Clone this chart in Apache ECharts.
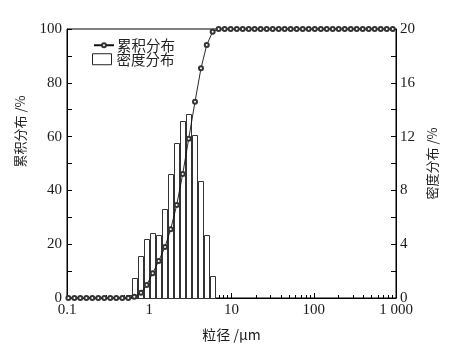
<!DOCTYPE html>
<html>
<head>
<meta charset="utf-8">
<script src="https://cdn.jsdelivr.net/npm/echarts@6/dist/echarts.min.js"></script>
<style>html,body{margin:0;padding:0;background:#fff}#c{width:459px;height:350px}</style>
</head>
<body>
<div id="c"></div>
<script>
// Density distribution (right axis, %): bin edges (μm) and bar heights
const binEdges = [0.522, 0.617, 0.730, 0.863, 1.021, 1.208, 1.429, 1.690, 2.000, 2.365, 2.798, 3.311, 3.915, 4.632, 5.478, 6.481];
const density = [0.25, 1.49, 3.12, 4.39, 4.83, 4.68, 6.62, 9.22, 11.52, 13.16, 13.68, 12.12, 8.70, 4.68, 1.67];

// Cumulative distribution (left axis, %)
const cumSizes = [0.104, 0.123, 0.145, 0.172, 0.203, 0.240, 0.284, 0.336, 0.397, 0.470, 0.556,
  0.658, 0.794, 0.931, 1.101, 1.303, 1.554, 1.823, 2.157, 2.552, 3.018, 3.600, 4.257, 5.00, 5.90,
  6.98, 8.26, 9.77, 11.6, 13.7, 16.2, 19.1, 22.6, 26.8, 31.7, 37.5, 44.3, 52.4, 62.0, 73.4, 86.8,
  103, 122, 144, 170, 201, 238, 282, 333, 394, 466, 551, 652, 772, 913];
const cumValues = [0, 0, 0, 0, 0, 0, 0, 0, 0, 0, 0,
  0.48, 1.97, 4.83, 9.18, 13.75, 18.96, 25.54, 34.57, 46.1, 59.2, 72.97, 85.4, 94.05, 99.0,
  100, 100, 100, 100, 100, 100, 100, 100, 100, 100, 100, 100, 100, 100, 100, 100,
  100, 100, 100, 100, 100, 100, 100, 100, 100, 100, 100, 100, 100, 100];

// Axis ticks and labels
const xMajorTicks = [0.1, 1, 10, 100, 1000];
const xTickLabels = ['0.1', '1', '10', '100', '1 000'];
const xMinorTicks = [0.2, 0.3, 0.4, 0.5, 0.6, 0.7, 0.8, 0.9, 2, 3, 4, 5, 6, 7, 8, 9,
  20, 30, 40, 50, 60, 70, 80, 90, 200, 300, 400, 500, 600, 700, 800, 900];

const seriesNames = ['累积分布', '密度分布'];
const axisNames = { x: '粒径 /μm', yLeft: '累积分布 /%', yRight: '密度分布 /%' };

const barData = density.map((v, i) => [binEdges[i], binEdges[i + 1], v]);
const lineData = cumSizes.map((s, i) => [s, cumValues[i]]);

const serif = 'Liberation Serif';
const cjk = 'Noto Sans CJK SC';
const ink = '#1a1a1a';
const legendText = { fontFamily: cjk, fontSize: 14.5, color: '#222', lineHeight: 14 };

const chart = echarts.init(document.getElementById('c'), null, { renderer: 'canvas' });
chart.setOption({
  animation: false,
  backgroundColor: '#fff',
  grid: { left: 67, right: 63, top: 29, bottom: 52, show: true, borderColor: '#000', borderWidth: 1 },
  legend: [{
    orient: 'vertical', left: 88, top: 33, itemWidth: 20, itemHeight: 5,
    textStyle: Object.assign({ padding: [0, 0, 0, -2] }, legendText),
    data: [{ name: seriesNames[0] }]
  }, {
    orient: 'vertical', left: 87, top: 47, itemWidth: 19, itemHeight: 11,
    textStyle: legendText,
    data: [{ name: seriesNames[1], icon: 'rect', itemStyle: { color: '#fff', borderColor: '#222', borderWidth: 1 } }]
  }],
  xAxis: [{
    type: 'log', logBase: 10, min: 0.1, max: 1000, position: 'bottom',
    name: axisNames.x, nameLocation: 'middle', nameGap: 30,
    nameTextStyle: { fontFamily: cjk, fontSize: 14, color: ink },
    axisLine: { show: true, lineStyle: { color: '#000', width: 1 } },
    axisTick: { show: true, inside: true, length: 5, customValues: xMajorTicks, lineStyle: { color: '#000' } },
    axisLabel: {
      customValues: xMajorTicks, fontFamily: serif, fontSize: 15, color: ink, margin: 5,
      formatter: (v) => { const i = xMajorTicks.findIndex(t => Math.abs(t - v) / t < 1e-6); return i >= 0 ? xTickLabels[i] : ''; }
    },
    splitLine: { show: false }
  }, {
    type: 'log', logBase: 10, min: 0.1, max: 1000, position: 'bottom', offset: 0,
    axisLine: { show: false },
    axisTick: { show: true, inside: true, length: 3, customValues: xMinorTicks, lineStyle: { color: '#000' } },
    axisLabel: { show: false },
    splitLine: { show: false }
  }],
  yAxis: [{
    type: 'value', min: 0, max: 100, interval: 20, position: 'left',
    name: axisNames.yLeft, nameLocation: 'middle', nameRotate: 90, nameGap: 40,
    nameTextStyle: { fontFamily: cjk, fontSize: 13, color: ink, padding: [0, 0, 0, 64] },
    axisLine: { show: true, lineStyle: { color: '#000' } },
    axisTick: { show: true, inside: true, length: 5, lineStyle: { color: '#000' } },
    minorTick: { show: true, splitNumber: 2, length: 5, lineStyle: { color: '#000' } },
    axisLabel: { fontFamily: serif, fontSize: 15, color: ink, margin: 5 },
    splitLine: { show: false }, minorSplitLine: { show: false }
  }, {
    type: 'value', min: 0, max: 20, interval: 4, position: 'right',
    name: axisNames.yRight, nameLocation: 'middle', nameRotate: 90, nameGap: 30,
    nameTextStyle: { fontFamily: cjk, fontSize: 13, color: ink },
    axisLine: { show: true, lineStyle: { color: '#000' } },
    axisTick: { show: true, inside: true, length: 5, lineStyle: { color: '#000' } },
    minorTick: { show: true, splitNumber: 2, length: 5, lineStyle: { color: '#000' } },
    axisLabel: { fontFamily: serif, fontSize: 15, color: ink, margin: 4 },
    splitLine: { show: false }, minorSplitLine: { show: false }
  }],
  series: [{
    name: seriesNames[1], type: 'custom', xAxisIndex: 0, yAxisIndex: 1, z: 2,
    encode: { x: [0, 1], y: 2 },
    itemStyle: { color: '#fff', borderColor: '#222' },
    renderItem: (params, api) => {
      const p0 = api.coord([api.value(0), 0]);
      const p1 = api.coord([api.value(1), api.value(2)]);
      const x0 = Math.round(p0[0]) + 0.5, x1 = Math.round(p1[0]) - 0.5;
      const yb = Math.round(p0[1]) + 0.5, yt = Math.round(p1[1]) + 0.5;
      return {
        type: 'rect',
        shape: { x: x0, y: yt, width: x1 - x0, height: yb - yt },
        style: { fill: '#fff', stroke: '#333', lineWidth: 1 }
      };
    },
    data: barData
  }, {
    name: seriesNames[0], type: 'line', xAxisIndex: 0, yAxisIndex: 0, z: 3,
    symbol: 'emptyCircle', symbolSize: 4, showAllSymbol: true,
    lineStyle: { color: '#111', width: 0.9 },
    itemStyle: { color: '#333', borderWidth: 0.7 },
    data: lineData
  }]
});
</script>
</body>
</html>
